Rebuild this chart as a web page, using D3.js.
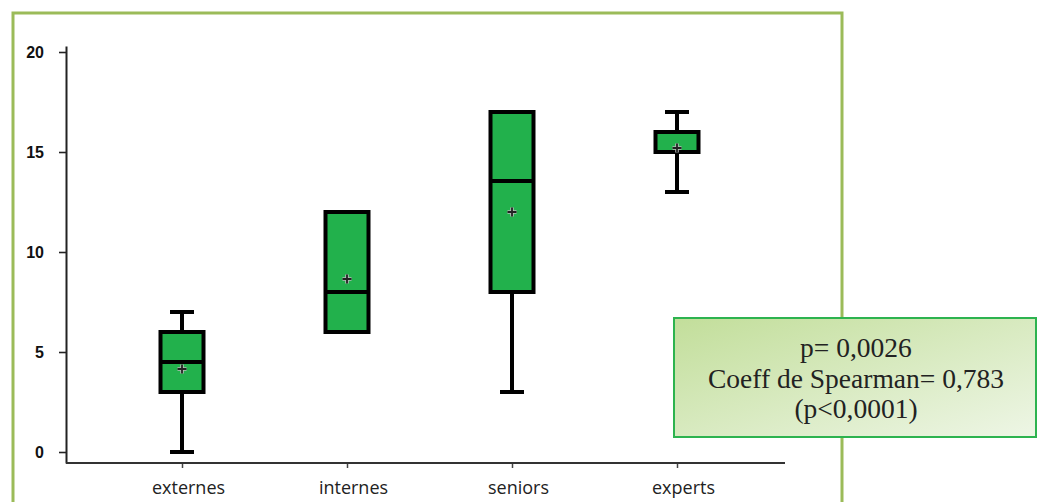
<!DOCTYPE html>
<html>
<head>
<meta charset="utf-8">
<script src="https://cdn.jsdelivr.net/npm/d3@7"></script>
<style>
  html, body { margin: 0; padding: 0; background: #ffffff; }
  svg { display: block; }
</style>
</head>
<body>
<svg id="chart" width="1038" height="502"></svg>
<script>
// ---- data ----
const categories = ["externes", "internes", "seniors", "experts"];
const minValues    = [0,   6,  3,    13];
const q1Values     = [3,   6,  8,    15];
const medianValues = [4.5, 8,  13.55, 15];
const q3Values     = [6,   12, 17,   16];
const maxValues    = [7,   12, 17,   17];
const meanValues   = [4.15, 8.65, 12.0, 15.2];
const yTicks = [0, 5, 10, 15, 20];
const annotationLines = ["p= 0,0026", "Coeff de Spearman= 0,783", "(p<0,0001)"];

const svg = d3.select("#chart");

// outer green frame (open at bottom)
svg.append("path")
  .attr("d", "M13,502 V13 H842 V502")
  .attr("fill", "none")
  .attr("stroke", "#9bbb59")
  .attr("stroke-width", 3);

const y = d3.scaleLinear().domain([-0.55, 20.3]).range([463, 46]);
const x = d3.scalePoint().domain(categories).range([182, 677]);

// y axis
const yAxis = svg.append("g")
  .attr("transform", "translate(66,0)")
  .call(d3.axisLeft(y).tickValues(yTicks).tickSize(7).tickSizeOuter(0).tickPadding(15));
yAxis.select(".domain").attr("stroke", "#222").attr("stroke-width", 2);
yAxis.selectAll(".tick line").attr("stroke", "#222").attr("stroke-width", 1.6);
yAxis.selectAll(".tick text")
  .attr("font-family", "'Liberation Sans', Arial, sans-serif")
  .attr("font-weight", "bold")
  .attr("font-size", 16)
  .attr("fill", "#111");

// x axis
const xAxis = svg.append("g")
  .attr("transform", "translate(0,463)")
  .call(d3.axisBottom(x).tickSize(5).tickSizeOuter(0).tickPadding(13));
xAxis.select(".domain").remove();
xAxis.append("line")
  .attr("x1", 66).attr("x2", 785).attr("y1", 0).attr("y2", 0)
  .attr("stroke", "#333").attr("stroke-width", 2.2);
xAxis.selectAll(".tick line").attr("stroke", "#444").attr("stroke-width", 1.5);
xAxis.selectAll(".tick text")
  .attr("font-family", "'Open Sans', sans-serif")
  .attr("font-size", 18)
  .attr("fill", "#222")
  .attr("dx", 6);

// boxes
const boxW = 43, capW = 24, sw = 4;
const data = categories.map((c, i) => ({
  c, min: minValues[i], q1: q1Values[i], med: medianValues[i],
  q3: q3Values[i], max: maxValues[i], mean: meanValues[i]
}));

const g = svg.append("g");
data.forEach(d => {
  const cx = x(d.c);
  const bg = g.append("g");
  if (d.max > d.q3) {
    bg.append("line").attr("x1", cx).attr("x2", cx).attr("y1", y(d.q3)).attr("y2", y(d.max))
      .attr("stroke", "#000").attr("stroke-width", sw);
    bg.append("line").attr("x1", cx - capW / 2).attr("x2", cx + capW / 2).attr("y1", y(d.max)).attr("y2", y(d.max))
      .attr("stroke", "#000").attr("stroke-width", sw);
  }
  if (d.min < d.q1) {
    bg.append("line").attr("x1", cx).attr("x2", cx).attr("y1", y(d.q1)).attr("y2", y(d.min))
      .attr("stroke", "#000").attr("stroke-width", sw);
    bg.append("line").attr("x1", cx - capW / 2).attr("x2", cx + capW / 2).attr("y1", y(d.min)).attr("y2", y(d.min))
      .attr("stroke", "#000").attr("stroke-width", sw);
  }
  bg.append("rect")
    .attr("x", cx - boxW / 2).attr("width", boxW)
    .attr("y", y(d.q3)).attr("height", y(d.q1) - y(d.q3))
    .attr("fill", "#22b14c").attr("stroke", "#000").attr("stroke-width", sw);
  bg.append("line").attr("x1", cx - boxW / 2).attr("x2", cx + boxW / 2)
    .attr("y1", y(d.med)).attr("y2", y(d.med))
    .attr("stroke", "#000").attr("stroke-width", sw);
  // mean marker
  const my = y(d.mean), s = 4.5;
  const plus = `M${cx - s},${my} H${cx + s} M${cx},${my - s} V${my + s}`;
  bg.append("path").attr("d", plus).attr("stroke", "#bbb").attr("stroke-width", 3.5).attr("fill", "none");
  bg.append("path").attr("d", plus).attr("stroke", "#222").attr("stroke-width", 1.8).attr("fill", "none");
});

// annotation box
const defs = svg.append("defs");
const grad = defs.append("linearGradient").attr("id", "annGrad")
  .attr("x1", "0%").attr("y1", "0%").attr("x2", "100%").attr("y2", "100%");
grad.append("stop").attr("offset", "0%").attr("stop-color", "#c2de9a");
grad.append("stop").attr("offset", "100%").attr("stop-color", "#eef6e6");

const ann = svg.append("g");
ann.append("rect")
  .attr("x", 674).attr("y", 318).attr("width", 362).attr("height", 119)
  .attr("fill", "url(#annGrad)")
  .attr("stroke", "#2db34f").attr("stroke-width", 2);
ann.selectAll("text.ann").data(annotationLines).join("text")
  .attr("class", "ann")
  .attr("x", 856)
  .attr("y", (d, i) => 357 + i * 30.5)
  .attr("text-anchor", "middle")
  .attr("font-family", "'Liberation Serif', 'Times New Roman', serif")
  .attr("font-size", 27.5)
  .attr("fill", "#222")
  .text(d => d);
</script>
</body>
</html>
